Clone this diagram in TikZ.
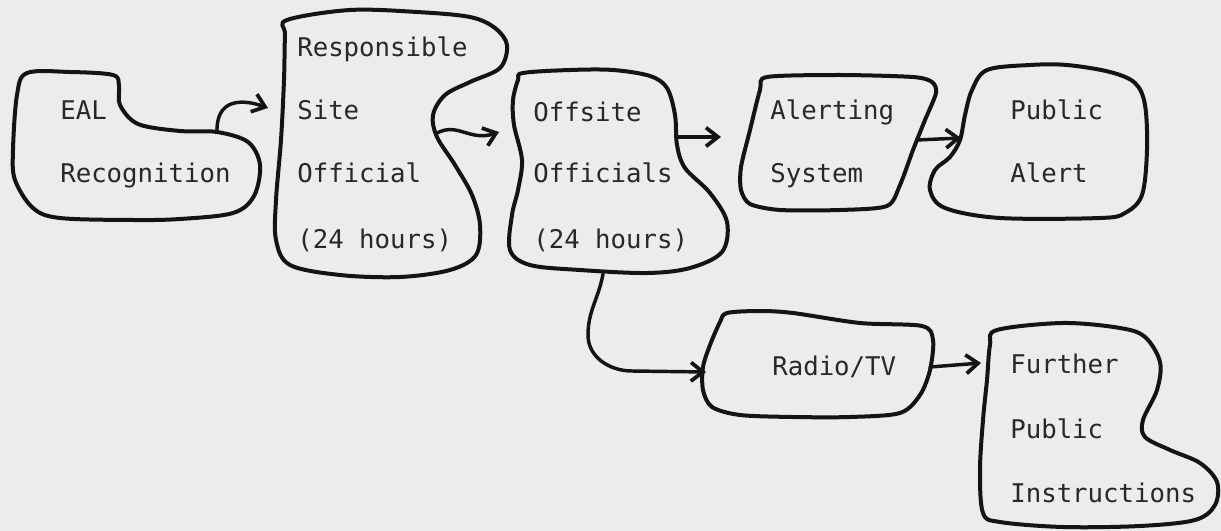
\documentclass[tikz,border=0pt]{standalone}
\usepackage{fontspec}
\setmonofont{DejaVu Sans Mono}
\usetikzlibrary{arrows.meta}
\definecolor{paper}{RGB}{236,236,236}
\definecolor{ink}{RGB}{20,20,20}
\definecolor{typeink}{RGB}{40,40,40}
\begin{document}
\begin{tikzpicture}[x=0.75pt,y=-0.75pt,
  outline/.style={draw=ink,line width=3pt,line join=round},
  conn/.style={draw=ink,line width=2.6pt,line cap=round,-{Straight Barb[length=9pt,width=14pt,line width=2.8pt]}},
  lbl/.style={anchor=base west,inner sep=0pt,text=typeink,font=\ttfamily\fontsize{19.3}{23}\selectfont}]
\fill[paper] (0,0) rectangle (1221,531);
\useasboundingbox (0,0) rectangle (1221,531);

% EAL Recognition
\draw[outline] plot[smooth cycle,tension=0.55] coordinates {(27,73) (70,72) (113,75) (119,86) (120,105) (138,124) (180,131) (217,132) (248,142) (260,165) (254,196) (233,213) (180,219) (133,220) (60,218) (33,208) (15,180) (13,150) (17,95)};
\node[lbl] (eal1) at (60,120) {EAL};
\node[lbl] (eal2) at (60,183) {Recognition};
\coordinate (e1) at (217,132);
\coordinate (r1) at (268,108);

% Responsible Site Official
\draw[outline] plot[smooth cycle,tension=0.55] coordinates {(287,20) (350,10) (417,12) (470,17) (495,28) (507,45) (500,68) (470,82) (445,95) (433,115) (437,137) (455,165) (472,195) (480,225) (476,255) (450,270) (400,277) (340,275) (290,265) (276,240) (276,200) (281,140) (284,80) (285,35)};
\node[lbl] (rso1) at (297,57) {Responsible};
\node[lbl] (rso2) at (297,120) {Site};
\node[lbl] (rso3) at (297,183) {Official};
\node[lbl] (rso4) at (297,248) {(24 hours)};
\coordinate (r2) at (437,133);
\coordinate (o1) at (499,132);

% Offsite Officials
\draw[outline] plot[smooth cycle,tension=0.55] coordinates {(523,73) (570,70) (613,70) (650,76) (667,88) (675,115) (677,145) (685,168) (710,193) (727,222) (722,252) (690,268) (647,273) (580,270) (530,265) (510,250) (512,215) (518,190) (522,160) (514,125) (513,100) (518,80)};
\node[lbl] (off1) at (533,122) {Offsite};
\node[lbl] (off2) at (533,183) {Officials};
\node[lbl] (off3) at (533,248) {(24 hours)};
\coordinate (o2) at (677,137);
\coordinate (a1) at (721,137);
\coordinate (o3) at (603,274);
\coordinate (t1) at (706,372);

% Alerting System
\draw[outline] plot[smooth cycle,tension=0.45] coordinates {(767,77) (840,75) (913,77) (932,82) (936,93) (925,120) (913,150) (900,185) (887,206) (840,210) (780,210) (750,204) (741,190) (741,167) (750,130) (760,90)};
\node[lbl] (als1) at (770,120) {Alerting};
\node[lbl] (als2) at (770,183) {System};
\coordinate (a2) at (917,140);
\coordinate (p1) at (961,138);

% Public Alert
\draw[outline] plot[smooth cycle,tension=0.55] coordinates {(987,70) (1030,65) (1067,65) (1110,72) (1135,83) (1145,105) (1147,150) (1142,195) (1125,213) (1100,218) (1000,218) (945,208) (930,190) (935,170) (950,157) (960,140) (965,115) (972,90)};
\node[lbl] (pa1) at (1010,120) {Public};
\node[lbl] (pa2) at (1010,183) {Alert};

% Radio/TV
\draw[outline] plot[smooth cycle,tension=0.5] coordinates {(727,313) (760,311) (793,313) (860,323) (922,326) (933,340) (930,370) (920,395) (900,413) (850,417) (793,417) (740,415) (712,407) (703,390) (703,367) (710,345) (720,322)};
\node[lbl] (rtv) at (772,375) {Radio/TV};
\coordinate (t2) at (930,367);
\coordinate (f1) at (981,363);

% Further Public Instructions
\draw[outline] plot[smooth cycle,tension=0.55] coordinates {(997,330) (1063,323) (1120,328) (1145,337) (1160,362) (1157,390) (1143,420) (1145,437) (1170,450) (1200,463) (1217,482) (1215,505) (1195,520) (1140,526) (1063,527) (1000,522) (983,513) (980,470) (983,420) (987,380) (990,345)};
\node[lbl] (fpi1) at (1010,373) {Further};
\node[lbl] (fpi2) at (1010,438) {Public};
\node[lbl] (fpi3) at (1010,502) {Instructions};

% connectors
\draw[conn] (e1) .. controls (216,100) and (240,98) .. (r1);
\draw[conn] (r2) .. controls (458,122) and (470,142) .. (o1);
\draw[conn] (o2) -- (a1);
\draw[conn] (o3) to[out=-100,in=90] (588,335) to[out=-90,in=180] (632,371) -- (t1);
\draw[conn] (a2) -- (p1);
\draw[conn] (t2) -- (f1);
\end{tikzpicture}
\end{document}
